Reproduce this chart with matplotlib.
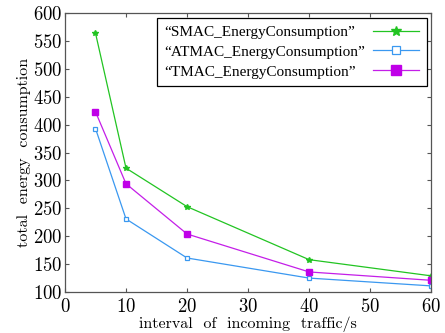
import matplotlib
matplotlib.use("Agg")
from matplotlib import pyplot as plt

plt.rcParams['font.family'] = ['cmr10', 'DejaVu Serif']
plt.rcParams['axes.formatter.use_mathtext'] = True
plt.rcParams['mathtext.fontset'] = 'cm'

interval = [5, 10, 20, 40, 60]
smac = [564, 322, 253, 158, 129]
atmac = [393, 231, 161, 125, 111]
tmac = [423, 294, 204, 136, 121]

labels = ['\u201cSMAC_EnergyConsumption\u201d',
          '\u201cATMAC_EnergyConsumption\u201d',
          '\u201cTMAC_EnergyConsumption\u201d']

fig = plt.figure(figsize=(4.45, 3.33), dpi=100)
ax = fig.add_axes([0.146, 0.123, 0.823, 0.838])

ax.plot(interval, smac, color='#22c422', lw=0.9, marker='*', ms=4, label=labels[0])
ax.plot(interval, atmac, color='#3a98f0', lw=0.9, marker='s', ms=3.5,
        mfc='white', mec='#3a98f0', mew=0.9, label=labels[1])
ax.plot(interval, tmac, color='#c41ee8', lw=0.9, marker='s', ms=4,
        mfc='#c000e8', mec='#c000e8', label=labels[2])

ax.set_xlim(0, 60)
ax.set_ylim(100, 600)
ax.set_xticks(range(0, 61, 10))
ax.set_yticks(range(100, 601, 50))
ax.tick_params(direction='in', top=True, right=True, labelsize=13.5, length=3,
               color='#555555')
ax.tick_params(axis='x', pad=4)
ax.tick_params(axis='y', pad=2)
for s in ax.spines.values():
    s.set_color('#555555')
    s.set_linewidth(0.9)

ax.set_xlabel('interval  of  incoming  traffic/s', fontsize=11.5, labelpad=1)
ax.set_ylabel('total  energy  consumption', fontsize=11.5, labelpad=1)

# cmr10 has no plain underscore, legend in a Times-like face
leg = ax.legend(loc='upper right', prop={'family': 'Liberation Serif', 'size': 11},
                markerfirst=False, fancybox=False,
                edgecolor='black', framealpha=1, borderaxespad=0.3,
                handlelength=3.0, markerscale=1.8, labelspacing=0.4,
                borderpad=0.5, handletextpad=0.5)
leg.get_frame().set_linewidth(0.9)

# labels left aligned, handles lined up on the right
fig.canvas.draw()
renderer = fig.canvas.get_renderer()
for col in leg._legend_handle_box.get_children():
    rows = col.get_children()
    w = max(r.get_bbox(renderer).width for r in rows)
    for r in rows:
        r.width = w
        r.mode = 'expand'
    col.align = 'left'

plt.savefig('out.png', dpi=100)
